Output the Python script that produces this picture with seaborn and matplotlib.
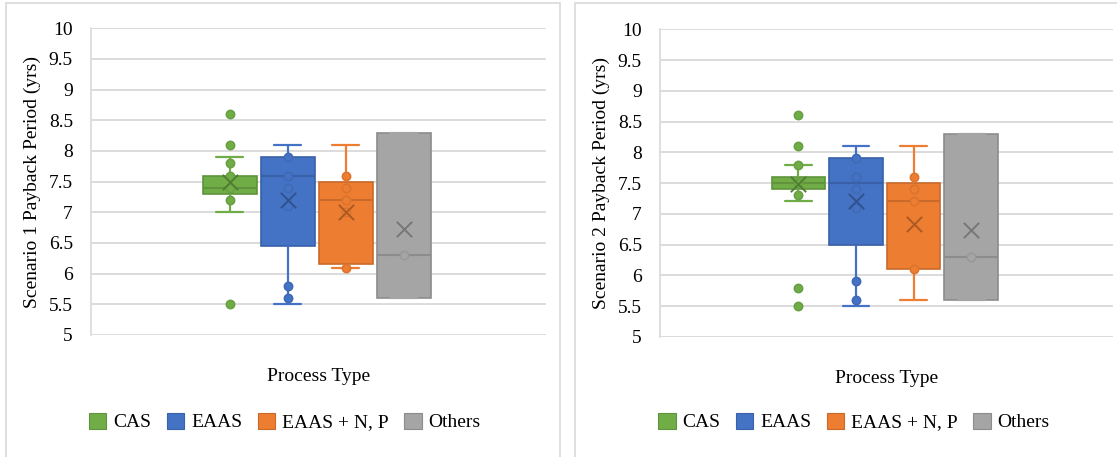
import numpy as np
import pandas as pd
import matplotlib
matplotlib.use("Agg")
import matplotlib.pyplot as plt
import seaborn as sns
from matplotlib.patches import Patch, Rectangle
import matplotlib.colors as mcolors

# ---------------- data ----------------
types = ["CAS", "EAAS", "EAAS + N, P", "Others"]
colors = ["#70AD47", "#4472C4", "#ED7D31", "#A5A5A5"]

# Scenario 1 sample values (estimated so the boxes match)
s1_cas = [5.5, 7.0, 7.2, 7.3, 7.3, 7.4, 7.4, 7.4, 7.4, 7.5, 7.6, 7.6, 7.6, 7.8, 7.9, 8.1, 8.6]
s1_eaas = [5.5, 5.6, 5.8, 7.1, 7.4, 7.6, 7.6, 7.9, 7.9, 8.0, 8.1]
s1_eaasnp = [6.1, 6.1, 6.1, 6.2, 7.0, 7.2, 7.4, 7.4, 7.6, 8.0, 8.1]
s1_others = [5.6, 5.6, 6.3, 8.3, 8.3]

# Scenario 2 sample values
s2_cas = [5.5, 5.8, 7.2, 7.3, 7.4, 7.4, 7.5, 7.5, 7.5, 7.5, 7.6, 7.6, 7.6, 7.7, 7.8, 8.1, 8.6]
s2_eaas = [5.5, 5.6, 5.9, 7.1, 7.4, 7.5, 7.6, 7.9, 7.9, 8.0, 8.1]
s2_eaasnp = [5.6, 6.1, 6.1, 7.0, 7.2, 7.4, 7.5, 7.6, 8.1]
s2_others = [5.6, 5.6, 6.3, 8.3, 8.3]

# visible data point markers
s1_pts_cas = [8.6, 8.1, 7.8, 7.6, 7.4, 7.2, 5.5]
s1_pts_eaas = [7.9, 7.6, 7.4, 7.1, 5.8, 5.6]
s1_pts_eaasnp = [7.6, 7.4, 7.2, 7.0, 6.1]
s1_pts_others = [6.3]

s2_pts_cas = [8.6, 8.1, 7.8, 7.5, 7.3, 5.8, 5.5]
s2_pts_eaas = [7.9, 7.6, 7.4, 7.1, 5.9, 5.6]
s2_pts_eaasnp = [7.6, 7.4, 7.2, 6.1]
s2_pts_others = [6.3]

# mean markers
s1_means = [7.5, 7.2, 7.0, 6.73]
s2_means = [7.48, 7.2, 6.84, 6.73]

ytick_vals = [5, 5.5, 6, 6.5, 7, 7.5, 8, 8.5, 9, 9.5, 10]
ytick_labels = ["5", "5.5", "6", "6.5", "7", "7.5", "8", "8.5", "9", "9.5", "10"]

ylabels = ["Scenario 1 Payback Period (yrs)", "Scenario 2 Payback Period (yrs)"]
xlabel = "Process Type"

# ---------------- style ----------------
sns.set_theme(style="white")
plt.rcParams["font.family"] = ["Liberation Serif", "DejaVu Serif"]
plt.rcParams["text.color"] = "black"

GRID = "#D9D9D9"


def shade(c, f):
    r, g, b = mcolors.to_rgb(c)
    return (r * f, g * f, b * f)


def draw_panel(ax, box_data, pts, means, ylabel):
    for i, t in enumerate(types):
        c = colors[i]
        dark = shade(c, 0.85)
        sub = pd.DataFrame({"type": [t] * len(box_data[i]), "value": box_data[i]})
        sns.boxplot(data=sub, x="type", y="value", order=types, color=c,
                    saturation=1, width=0.93, showfliers=False,
                    linewidth=1.2, linecolor=dark,
                    boxprops=dict(edgecolor=dark, linewidth=1.2),
                    whiskerprops=dict(color=c, linewidth=1.6),
                    capprops=dict(color=c, linewidth=1.6),
                    medianprops=dict(color=dark, linewidth=1.5),
                    ax=ax)
        pdf = pd.DataFrame({"type": [t] * len(pts[i]), "value": pts[i]})
        sns.stripplot(data=pdf, x="type", y="value", order=types, color=c,
                      jitter=False, size=6, linewidth=1.1,
                      edgecolor=shade(c, 0.92), ax=ax, zorder=4)
        mdf = pd.DataFrame({"type": [t], "value": [means[i]]})
        sns.stripplot(data=mdf, x="type", y="value", order=types,
                      color=shade(c, 0.72), marker="x", jitter=False,
                      size=11, linewidth=1.4, ax=ax, zorder=5)

    ax.set_ylim(5, 10)
    ax.set_yticks(ytick_vals)
    ax.set_yticklabels(ytick_labels)
    ax.set_xticks([])
    ax.set_xlim(-2.4, 5.46)
    ax.tick_params(axis="y", length=0, pad=13, labelsize=14, labelcolor="black")
    ax.grid(axis="y", color=GRID, linewidth=1.3)
    ax.grid(axis="x", visible=False)
    ax.set_axisbelow(True)
    for s in ["top", "right", "bottom"]:
        ax.spines[s].set_visible(False)
    ax.spines["left"].set_color(GRID)
    ax.spines["left"].set_linewidth(1.2)
    ax.set_xlabel(xlabel, fontsize=14, labelpad=24, color="black")
    ax.set_ylabel(ylabel, fontsize=14, labelpad=6, color="black")


fig = plt.figure(figsize=(11.17, 4.57), dpi=100)
fig.patch.set_facecolor("white")

ax1 = fig.add_axes([0.0815, 0.267, 0.4073, 0.671])
ax2 = fig.add_axes([0.5909, 0.263, 0.4055, 0.673])

draw_panel(ax1, [s1_cas, s1_eaas, s1_eaasnp, s1_others],
           [s1_pts_cas, s1_pts_eaas, s1_pts_eaasnp, s1_pts_others], s1_means, ylabels[0])
draw_panel(ax2, [s2_cas, s2_eaas, s2_eaasnp, s2_others],
           [s2_pts_cas, s2_pts_eaas, s2_pts_eaasnp, s2_pts_others], s2_means, ylabels[1])

# chart-area borders
fig.patches.append(Rectangle((0.0055, -0.05), 0.4958, 1.0439, transform=fig.transFigure,
                             fill=False, edgecolor=GRID, linewidth=1.2))
fig.patches.append(Rectangle((0.5148, -0.05), 0.52, 1.0439, transform=fig.transFigure,
                             fill=False, edgecolor=GRID, linewidth=1.2))

handles = [Patch(facecolor=colors[i], edgecolor=shade(colors[i], 0.85), linewidth=0.8)
           for i in range(len(types))]
for cx in [0.255, 0.7645]:
    fig.legend(handles, types, loc="center", bbox_to_anchor=(cx, 0.0766), ncol=4,
               frameon=False, fontsize=14, handlelength=0.9, handleheight=0.9,
               handletextpad=0.35, columnspacing=0.8)

fig.savefig("out.png", dpi=100, facecolor="white")
